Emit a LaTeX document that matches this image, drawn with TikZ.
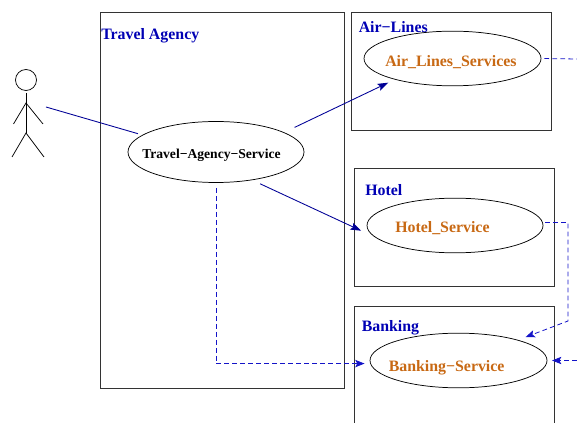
\documentclass[tikz,border=0pt]{standalone}
\usepackage{fontspec}
\setmainfont{Liberation Serif}
\usepackage{xcolor}
\usetikzlibrary{calc,shapes.geometric,arrows.meta}
\definecolor{linkblue}{RGB}{0,0,150}
\definecolor{dashblue}{RGB}{20,20,200}
\definecolor{titleblue}{RGB}{0,0,180}
\definecolor{svcorange}{RGB}{200,105,20}
\tikzset{
  system/.style={ % image of a system boundary
    draw, rectangle, inner sep=0pt, outer sep=0pt, line width=0.65pt, black!80
  },
  usecase/.style={ % image of a use case
    draw, ellipse, minimum width=132pt, minimum height=41pt,
    inner sep=0pt, outer sep=0pt, line width=0.55pt
  },
  title/.style={
    anchor=base west, inner sep=0pt, text=titleblue, font=\fontsize{11.9}{14}\selectfont\bfseries
  },
  svcname/.style={
    anchor=base west, inner sep=0pt, text=svcorange, font=\fontsize{11.9}{14}\selectfont\bfseries
  },
  invoke/.style={
    linkblue, line width=0.65pt, -{Stealth[length=8pt,width=5.5pt,inset=1.5pt]}
  },
  message/.style={
    dashblue, line width=0.6pt, dash pattern=on 3.6pt off 2.4pt,
    -{Stealth[length=7pt,width=5.5pt,inset=1.5pt]}
  }
}
\begin{document}
\begin{tikzpicture}[x=0.75pt, y=-0.75pt]
      \clip (0,0) rectangle (577,423);

      \node[system,minimum width=183pt,minimum height=282pt] (agency_box) at (222.5,200) {};
      \node[system,minimum width=150pt,minimum height=88.5pt] (air_box) at (451,71) {};
      \node[system,minimum width=149.6pt,minimum height=88.5pt] (hotel_box) at (454.3,227) {};
      \node[system,minimum width=149.6pt,minimum height=100pt] (bank_box) at (454.3,373.2) {};

      \node[usecase,minimum height=45.75pt] (agency) at (216,152) {};
      \node[usecase,minimum width=132.75pt] (air) at (452.5,58.5) {};
      \node[usecase] (hotel) at (455,225.5) {};
      \node[usecase,minimum width=132.75pt] (bank) at (458.5,360.5) {};

      \node[title] (agency_label) at (101,39.5) {Travel Agency};
      \node[title] (air_label) at (358.5,33) {Air−Lines};
      \node[title] (hotel_label) at (365,196) {Hotel};
      \node[title] (bank_label) at (361.5,331) {Banking};

      \node[anchor=base west,inner sep=0pt,font=\fontsize{10.2}{12}\selectfont\bfseries] (agency_name) at (142,158.5) {Travel−Agency−Service};
      \node[svcname] (air_name) at (385,67) {Air\_Lines\_Services};
      \node[svcname] (hotel_name) at (395,232.7) {Hotel\_Service};
      \node[svcname] (bank_name) at (388.5,371.7) {Banking−Service};

      % the actor
      \node[draw,circle,minimum size=15.75pt,inner sep=0pt,line width=0.55pt] (actor) at (26,80) {};
      \coordinate (neck) at (26,103);
      \coordinate (hip) at (26,133);
      \draw[line width=0.55pt] (26,93) -- (hip);
      \draw[line width=0.55pt] (13.5,124) -- (neck) -- (43,124);
      \draw[line width=0.55pt] (12,157) -- (hip) -- (44,157);

      \coordinate (actor_hand) at (46,107);
      \coordinate (air_out) at (577,59);
      \coordinate (hotel_bend) at (568,321);
      \coordinate (bank_in) at (577,360.5);

      \draw[linkblue,line width=0.65pt,shorten >=3.75pt] (actor_hand) -- (agency.167);
      \draw[invoke,shorten <=9pt,shorten >=5.8pt] (agency.16.5) -- (air.200.5);
      \draw[invoke,shorten <=7pt,shorten >=22.5pt] (agency.322) -- (hotel.195);

      \draw[message,shorten <=4pt,shorten >=4.5pt] (agency.south) |- (bank.182);
      \draw[message,-,shorten <=2.5pt] (air.east) -- (air_out);
      \draw[message,shorten <=2pt,shorten >=6.4pt] (hotel.2) -| (hotel_bend) -- (bank.19);
      \draw[message,shorten >=3.75pt] (bank_in) -- (bank.east);
    \end{tikzpicture}
\end{document}
